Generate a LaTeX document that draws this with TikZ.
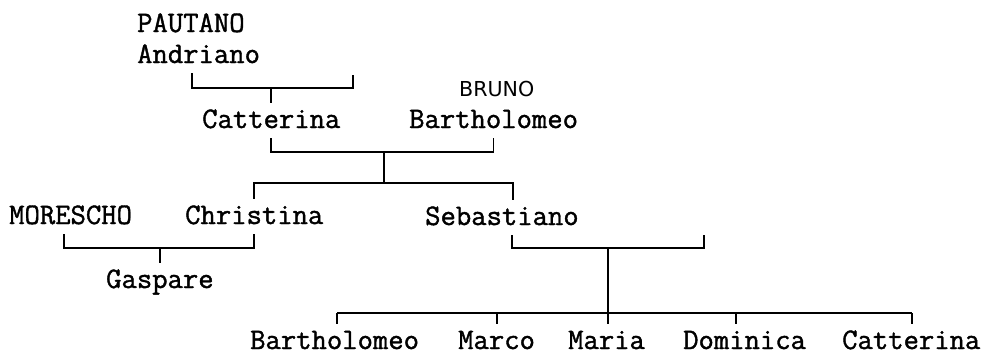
\documentclass[tikz,border=0pt]{standalone}
\usepackage{fontspec}
\newfontfamily\treefont{Latin Modern Mono}[FakeBold=1.3]
\newfontfamily\surnamefont{DejaVu Sans}
\usetikzlibrary{positioning}

\begin{document}
\begin{tikzpicture}[
    x=1pt, y=-1pt,
    person/.style={anchor=base west, inner xsep=0pt, inner ysep=7pt,
                   text height=18pt, text depth=3pt,
                   font=\treefont\fontsize{29.8}{30}\selectfont},
    kid/.style={person, text depth=0pt},
    surname/.style={anchor=base west, inner sep=0pt,
                    font=\surnamefont\fontsize{20.6}{21}\selectfont},
    link/.style={line width=1.6pt}
]
\useasboundingbox (0,0) rectangle (987,354);

% generation 1
\node[person] (pautano) at (137,32) {PAUTANO};
\node[person] (andriano) at (137,63) {Andriano};
\node[surname] (bruno) at (459,96) {BRUNO};

% generation 2
\node[person] (catterina) at (202,128) {Catterina};
\node[person] (bartholomeo) at (409,128) {Bartholomeo};

% generation 3
\node[person] (morescho) at (9,224) {MORESCHO};
\node[person] (christina) at (185,224) {Christina};
\node[person] (sebastiano) at (425,225) {Sebastiano};
\node[person] (gaspare) at (106,288) {Gaspare};

% children of Sebastiano
\node[kid] (k1) at (250,349) {Bartholomeo};
\node[kid] (k2) at (458,349) {Marco};
\node[kid] (k3) at (568,349) {Maria};
\node[kid] (k4) at (683,349) {Dominica};
\node[kid] (k5) at (842,349) {Catterina};

% junctions
\coordinate (j1) at (catterina.north |- 0,88);
\coordinate (j2) at (384,152);
\coordinate (j3) at (384,183);
\coordinate (j4) at (gaspare.north |- 0,248);
\coordinate (j5) at (608,248);
\coordinate (j6) at (608,313);

\draw[link] (andriano.south -| 192,0) |- (353,88) -- (353,75);
\draw[link] (j1) -- (catterina.north);

\draw[link] (catterina.south) |- (bartholomeo.south |- j2) -- (bartholomeo.south);
\draw[link] (j2) -- (j3);
\draw[link] (christina.north) |- (513,183) -- (sebastiano.north -| 513,0);

\draw[link] (morescho.south -| 64,0) |- (christina.south |- j4) -- (christina.south);
\draw[link] (j4) -- (gaspare.north);

\draw[link] (sebastiano.south -| 512,0) |- (704,248) -- (sebastiano.south -| 704,0);
\draw[link] (j5) -- (j6);
\draw[link] (337,313) -- (912,313);
\foreach \k/\x in {k1/337, k2/497, k3/608, k4/736, k5/912}
    \draw[link] (\x,313) -- (\k.north -| \x,0);
\end{tikzpicture}
\end{document}
